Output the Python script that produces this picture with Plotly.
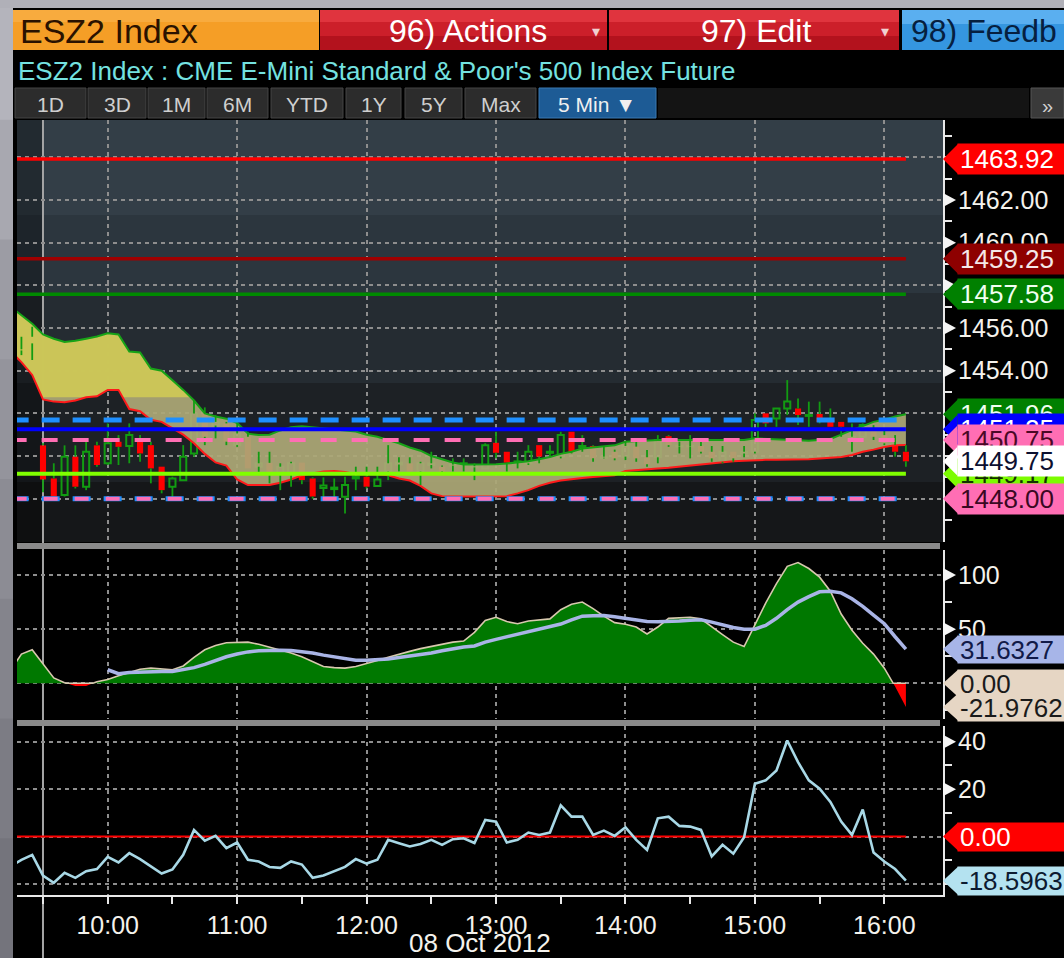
import numpy as np
import pandas as pd
import plotly.graph_objects as go

# ----------------------------- data -----------------------------
ticker_title = "ESZ2 Index"
security_name = "ESZ2 Index : CME E-Mini Standard & Poor's 500 Index Future"
menu_labels = ["96) Actions", "97) Edit", "98) Feedb"]
range_buttons = ["1D", "3D", "1M", "6M", "YTD", "1Y", "5Y", "Max"]
interval_label = "5 Min \u25bc"
date_label = "08 Oct 2012"
session_date = "2012-10-08"
session_open = "2012-10-08 09:30"
bar_start = "2012-10-08 09:20"
line_start = "2012-10-08 09:15"
signal_start = "2012-10-08 10:00"
hour_labels = ["10:00", "11:00", "12:00", "13:00", "14:00", "15:00", "16:00"]

bar_open = [1454.95, 1455.28, 1450.50, 1448.95, 1448.17, 1449.97, 1448.56, 1450.50, 1449.66, 1450.67,
            1450.47, 1450.67, 1450.51, 1449.50, 1448.56, 1448.87, 1450.12, 1451.99, 1451.43, 1451.53,
            1450.51, 1450.90, 1449.50, 1449.68, 1449.19, 1449.22, 1449.69, 1448.95, 1448.50, 1448.45,
            1448.09, 1448.95, 1449.03, 1448.60, 1449.27, 1449.60, 1449.66, 1449.27, 1449.58, 1449.50,
            1449.55, 1449.60, 1449.47, 1449.42, 1450.62, 1450.20, 1449.70, 1449.66, 1450.51, 1450.15,
            1449.97, 1451.14, 1450.40, 1450.47, 1449.92, 1450.20, 1449.97, 1450.44, 1449.94, 1449.94,
            1450.93, 1450.45, 1450.45, 1450.47, 1450.20, 1449.73, 1450.20, 1450.12, 1450.20, 1452.00,
            1451.76, 1452.23, 1452.23, 1451.88, 1451.97, 1451.60, 1451.60, 1450.80, 1450.90, 1451.22,
            1450.98, 1450.51, 1450.20]
bar_high = [1455.59, 1456.06, 1450.60, 1449.66, 1450.50, 1450.50, 1450.67, 1450.67, 1451.53, 1450.98,
            1451.53, 1450.98, 1450.67, 1449.50, 1449.03, 1450.51, 1452.62, 1452.28, 1451.92, 1451.60,
            1451.69, 1451.14, 1450.20, 1450.20, 1449.66, 1449.73, 1449.69, 1449.00, 1449.00, 1448.95,
            1449.03, 1449.50, 1449.50, 1449.50, 1450.51, 1449.94, 1449.94, 1449.73, 1450.20, 1449.55,
            1449.89, 1449.89, 1449.66, 1450.60, 1451.14, 1450.20, 1450.20, 1450.51, 1450.51, 1450.51,
            1451.14, 1451.14, 1450.98, 1450.51, 1450.47, 1450.30, 1450.67, 1450.67, 1450.28, 1450.98,
            1450.98, 1450.67, 1450.98, 1450.67, 1450.47, 1450.47, 1450.20, 1450.47, 1452.00, 1452.00,
            1452.23, 1453.56, 1452.70, 1452.55, 1452.55, 1452.23, 1451.60, 1451.53, 1451.53, 1451.45,
            1451.22, 1450.98, 1450.51]
bar_low = [1454.73, 1454.50, 1448.30, 1448.00, 1448.10, 1448.48, 1448.40, 1449.50, 1449.58, 1449.58,
           1449.66, 1449.73, 1448.72, 1448.25, 1448.00, 1448.87, 1449.97, 1450.51, 1450.83, 1450.51,
           1450.43, 1449.42, 1449.19, 1448.72, 1448.40, 1448.56, 1448.68, 1448.00, 1447.94, 1447.94,
           1447.31, 1448.40, 1448.48, 1448.56, 1448.87, 1449.27, 1449.27, 1448.64, 1449.42, 1449.22,
           1449.27, 1449.27, 1448.87, 1449.42, 1449.89, 1449.27, 1449.42, 1449.58, 1449.66, 1449.97,
           1449.89, 1450.12, 1450.20, 1449.73, 1449.89, 1449.80, 1449.81, 1449.73, 1449.50, 1449.66,
           1450.43, 1450.12, 1449.89, 1450.12, 1449.73, 1449.66, 1449.73, 1449.94, 1450.12, 1451.37,
           1451.37, 1451.92, 1451.45, 1451.37, 1451.53, 1451.37, 1450.90, 1450.20, 1450.90, 1450.75,
           1450.51, 1449.97, 1449.50]
bar_close = [1455.00, 1455.59, 1448.90, 1448.10, 1449.97, 1448.56, 1450.20, 1449.58, 1450.60, 1450.43,
             1450.98, 1450.12, 1449.42, 1448.40, 1448.95, 1449.97, 1451.99, 1450.90, 1451.60, 1450.67,
             1451.06, 1449.42, 1449.66, 1449.19, 1449.50, 1449.66, 1448.87, 1448.10, 1448.62, 1448.52,
             1448.64, 1449.03, 1448.56, 1448.90, 1449.66, 1449.70, 1449.27, 1449.66, 1449.66, 1449.27,
             1449.60, 1449.66, 1449.52, 1450.51, 1450.15, 1449.69, 1449.75, 1450.20, 1449.97, 1450.20,
             1450.98, 1450.20, 1450.47, 1449.89, 1449.97, 1449.89, 1450.47, 1449.89, 1449.62, 1450.75,
             1450.51, 1450.47, 1450.47, 1450.20, 1449.89, 1450.20, 1449.89, 1450.20, 1451.69, 1451.53,
             1452.23, 1452.55, 1451.92, 1451.92, 1451.60, 1451.37, 1451.37, 1450.90, 1451.45, 1450.90,
             1450.60, 1450.20, 1449.75]

cloud_top = [1457.0, 1456.6, 1456.2, 1455.7, 1455.5, 1455.35, 1455.4, 1455.5, 1455.6, 1455.75,
             1455.7, 1454.9, 1454.85, 1454.1, 1454.0, 1453.55, 1453.1, 1452.6, 1452.0, 1451.85,
             1451.75, 1451.55, 1451.05, 1450.98, 1451.0, 1451.2, 1451.35, 1451.4, 1451.35, 1451.3,
             1451.25, 1451.2, 1451.15, 1451.0, 1450.9, 1450.75, 1450.6, 1450.4, 1450.25, 1450.0,
             1449.85, 1449.7, 1449.6, 1449.6, 1449.6, 1449.62, 1449.65, 1449.7, 1449.75, 1449.85,
             1449.95, 1450.1, 1450.2, 1450.35, 1450.4, 1450.42, 1450.5, 1450.67, 1450.7, 1450.73,
             1450.75, 1450.75, 1450.75, 1450.75, 1450.75, 1450.75, 1450.75, 1450.75, 1450.75, 1450.83,
             1450.8, 1450.78, 1450.76, 1450.74, 1450.72, 1450.75, 1450.8, 1451.0, 1451.22, 1451.4,
             1451.6, 1451.7, 1451.85, 1451.96]
cloud_bottom = [1454.9, 1454.4, 1453.8, 1452.65, 1452.55, 1452.52, 1452.6, 1452.75, 1452.8, 1453.1,
                1453.1, 1452.2, 1452.1, 1451.7, 1451.6, 1451.3, 1451.0, 1450.6, 1450.1, 1449.7,
                1449.55, 1448.9, 1448.64, 1448.64, 1448.64, 1448.75, 1448.9, 1449.1, 1449.2, 1449.28,
                1449.3, 1449.25, 1449.15, 1449.15, 1449.15, 1449.1, 1448.95, 1448.85, 1448.6, 1448.25,
                1448.12, 1448.1, 1448.1, 1448.1, 1448.1, 1448.1, 1448.12, 1448.25, 1448.4, 1448.6,
                1448.75, 1448.85, 1448.92, 1448.97, 1449.02, 1449.05, 1449.1, 1449.3, 1449.35, 1449.38,
                1449.42, 1449.45, 1449.5, 1449.58, 1449.62, 1449.68, 1449.73, 1449.75, 1449.78, 1449.81,
                1449.82, 1449.82, 1449.82, 1449.83, 1449.85, 1449.88, 1449.9, 1449.95, 1450.05, 1450.2,
                1450.3, 1450.42, 1450.5, 1450.52]

osc_hist = [12, 27, 31, 18, 5, 0.5, -2.5, -2.5, 1.5, 3.5,
            7, 10, 13, 14, 13, 12.5, 16, 24, 31, 35,
            37.5, 38, 38, 36, 33.5, 31, 28, 24.5, 20, 15.5,
            14.5, 14, 15.5, 18, 21, 24, 27, 29.5, 32, 34,
            36, 38, 39, 47, 58, 61, 57, 55, 57.5, 58.5,
            59.5, 68, 73, 75, 69, 62, 56, 54.5, 52, 45.5,
            52, 60, 60.5, 61, 59.5, 52, 45, 38, 34, 54,
            74, 92, 108, 111.5, 106, 98, 85, 64, 49, 37,
            27, 14, -3, -21.9762]
osc_signal = [12.5, 8.9, 10, 10.5, 11, 11, 11, 12.5, 14.5, 17.5,
              21, 24.5, 27, 29, 30, 30.5, 30.6, 30.3, 29.5, 28,
              26, 24.5, 22.5, 21.3, 21.2, 21.5, 22.5, 23.8, 25, 26.5,
              28, 30, 32, 33.5, 34.5, 38, 40.6, 43, 45.3, 47.5,
              50, 52, 54.7, 58.5, 62, 62.3, 62.5, 61.5, 60, 58.5,
              57, 56.9, 56.9, 57.5, 58.3, 58.75, 56.5, 54, 51.5, 50,
              50, 53.5, 60, 68, 75, 80, 84.5, 85, 83.5, 78,
              71, 63, 55, 43, 31.6327]
momentum = [-12.5, -9.8, -7.7, -16.5, -19.5, -15.3, -17.4, -14.6, -13.7, -8.6,
            -10.9, -7.0, -9.5, -12.5, -15.6, -13.9, -7.7, 2.8, -1.7, 0.3,
            -4.9, -2.5, -9.8, -10.5, -12.8, -13.2, -10.5, -11.8, -17.4, -16.4,
            -14.6, -12.8, -9.5, -11.4, -9.8, -1.4, -2.8, -4.2, -3.1, -1.4,
            -3.5, -1.1, -0.7, -2.7, 7.0, 6.3, -2.5, -1.4, 1.7, 0.7,
            1.7, 13.2, 8.4, 8.4, 0.7, 2.5, 0.3, 3.9, -1.4, -5.6,
            7.7, 8.4, 4.5, 4.2, 2.8, -8.4, -3.5, -7.2, -0.3, 22.3,
            23.7, 27.9, 40.5, 31.4, 23.7, 20.2, 14.6, 6.3, 0.7, 11.4,
            -6.7, -10.5, -13.7, -18.5963]

level_values = [1463.92, 1459.25, 1457.58, 1451.69, 1451.25, 1450.75, 1449.17, 1448.00]
cloud_light_threshold = 1452.76

price_tag_values = [1463.92, 1459.25, 1457.58, 1451.96, 1451.25, 1450.75, 1449.17, 1448.00, 1449.75]
osc_tag_values = [31.6327, 0.00, -21.9762]
osc_tag_texts = ["31.6327", "0.00", "-21.9762"]
mom_tag_values = [0.00, -18.5963]
mom_tag_texts = ["0.00", "-18.5963"]

price_tick_vals = [1448, 1450, 1452, 1454, 1456, 1458, 1460, 1462, 1464]
price_tick_text = ["", "", "", "1454.00", "1456.00", "", "1460.00", "1462.00", ""]
price_minor_vals = [1447, 1449, 1451, 1453, 1455, 1457, 1459, 1461, 1463, 1465]
osc_tick_vals = [0, 50, 100]
osc_tick_text = ["", "50", "100"]
osc_minor_vals = [-25, 25, 75]
mom_tick_vals = [-20, 0, 20, 40]
mom_tick_text = ["", "", "20", "40"]
mom_minor_vals = [-10, 10, 30]

# ----------------------------- geometry / style -----------------------------
W, H = 1064, 958
FONT = "Liberation Sans, Arial, sans-serif"


def px_x(px):
    return px / W


def px_y(py):
    return 1 - py / H


X_DOM = [px_x(17), px_x(943)]
P_DOM = [px_y(542), px_y(120)]
M_DOM = [px_y(719), px_y(550)]
R_DOM = [px_y(895), px_y(726)]
P_RNG = [1445.97, 1465.75]
M_RNG = [-32.96, 123.1]
R_RNG = [-24.64, 46.62]
X_RNG = ["2012-10-08 09:17:57", "2012-10-08 16:27:12"]


def val_py(v, dom, rng):
    frac = (v - rng[0]) / (rng[1] - rng[0])
    return H * (1 - (dom[0] + frac * (dom[1] - dom[0])))


times = pd.date_range(bar_start, periods=len(bar_open), freq="5min")
ltimes = pd.date_range(line_start, periods=len(cloud_top), freq="5min")
stimes = pd.date_range(signal_start, periods=len(osc_signal), freq="5min")
t0 = pd.Timestamp(line_start)


def refine(ys_list, thr):
    xm = np.arange(len(ys_list[0])) * 5.0
    xs = list(xm)
    for ys in ys_list:
        for i in range(len(xm) - 1):
            a, b = ys[i] - thr, ys[i + 1] - thr
            if a * b < 0:
                xs.append(xm[i] + (xm[i + 1] - xm[i]) * a / (a - b))
    xs = np.array(sorted(set(xs)))
    tx = t0 + pd.to_timedelta(xs, unit="min")
    return tx, [np.interp(xs, xm, np.array(ys, dtype=float)) for ys in ys_list]


fig = go.Figure()

# --- Ichimoku-style cloud ---
fig.add_trace(go.Scatter(x=ltimes, y=cloud_bottom, mode="lines", line=dict(width=0),
                         hoverinfo="skip", xaxis="x", yaxis="y"))
fig.add_trace(go.Scatter(x=ltimes, y=cloud_top, mode="lines", line=dict(width=0), fill="tonexty",
                         fillcolor="rgba(172,168,118,0.93)", hoverinfo="skip", xaxis="x", yaxis="y"))
ctx, (cA, cB) = refine([cloud_top, cloud_bottom], cloud_light_threshold)
fig.add_trace(go.Scatter(x=ctx, y=np.maximum(cB, cloud_light_threshold), mode="lines", line=dict(width=0),
                         hoverinfo="skip", xaxis="x", yaxis="y"))
fig.add_trace(go.Scatter(x=ctx, y=np.maximum(cA, cloud_light_threshold), mode="lines", line=dict(width=0),
                         fill="tonexty", fillcolor="rgba(205,200,86,0.94)", hoverinfo="skip",
                         xaxis="x", yaxis="y"))
fig.add_trace(go.Scatter(x=ltimes, y=cloud_top, mode="lines", line=dict(color="#17a317", width=2),
                         hoverinfo="skip", xaxis="x", yaxis="y"))
fig.add_trace(go.Scatter(x=ltimes, y=cloud_bottom, mode="lines", line=dict(color="#ff1a1a", width=2),
                         hoverinfo="skip", xaxis="x", yaxis="y"))

# --- candles: wicks + bodies ---
wx, wy = [], []
for t, o, h, l, c in zip(times, bar_open, bar_high, bar_low, bar_close):
    top, bot = max(o, c), min(o, c)
    wx += [t, t, None, t, t, None]
    wy += [h, top, None, bot, l, None]
fig.add_trace(go.Scatter(x=wx, y=wy, mode="lines", line=dict(color="#129c12", width=1.8),
                         hoverinfo="skip", xaxis="x", yaxis="y"))
up = [c >= o for o, c in zip(bar_open, bar_close)]
for is_up in (True, False):
    xs = [t for t, u in zip(times, up) if u == is_up]
    base = [min(o, c) for o, c, u in zip(bar_open, bar_close, up) if u == is_up]
    hgt = [max(abs(c - o), 0.03) for o, c, u in zip(bar_open, bar_close, up) if u == is_up]
    if is_up:
        marker = dict(color="rgba(0,0,0,0)", line=dict(color="#129c12", width=2))
    else:
        marker = dict(color="#ff0000", line=dict(width=0))
    fig.add_trace(go.Bar(x=xs, y=hgt, base=base, width=170000, marker=marker,
                         hoverinfo="skip", xaxis="x", yaxis="y"))

# --- horizontal price levels ---
level_styles = [
    [dict(color="#ff0000", width=3.5)],
    [dict(color="#a00000", width=3.5)],
    [dict(color="#008a00", width=3.5)],
    [dict(color="#1e8fff", width=5, dash="18px,13px")],
    [dict(color="#0000ff", width=4)],
    [dict(color="#ff6eb4", width=4, dash="16px,15px")],
    [dict(color="#80ff00", width=4)],
    [dict(color="#1e8fff", width=5, dash="18px,13px"),
     dict(color="#ff6eb4", width=4, dash="0px,2px,14px,15px")],
]
for lv, sty in zip(level_values, level_styles):
    for s in sty:
        fig.add_trace(go.Scatter(x=[ltimes[0], times[-1]], y=[lv, lv], mode="lines", line=s,
                                 hoverinfo="skip", xaxis="x", yaxis="y"))

# --- oscillator panel ---
htx, (hv,) = refine([osc_hist], 0.0)
fig.add_trace(go.Scatter(x=htx, y=np.minimum(hv, 0), mode="lines", line=dict(width=0), fill="tozeroy",
                         fillcolor="#ff0000", hoverinfo="skip", xaxis="x2", yaxis="y2"))
fig.add_trace(go.Scatter(x=htx, y=np.maximum(hv, 0), mode="lines", line=dict(color="#d8c8ae", width=1.6),
                         fill="tozeroy", fillcolor="#007800", hoverinfo="skip", xaxis="x2", yaxis="y2"))
fig.add_trace(go.Scatter(x=stimes, y=osc_signal, mode="lines", line=dict(color="#a9b4e6", width=3.5),
                         hoverinfo="skip", xaxis="x2", yaxis="y2"))

# --- momentum panel ---
fig.add_trace(go.Scatter(x=[ltimes[0], times[-1]], y=[0, 0], mode="lines", line=dict(color="#ff0000", width=2),
                         hoverinfo="skip", xaxis="x3", yaxis="y3"))
fig.add_trace(go.Scatter(x=ltimes, y=momentum, mode="lines", line=dict(color="#a8d8e6", width=2.6),
                         hoverinfo="skip", xaxis="x3", yaxis="y3"))

# ----------------------------- axes -----------------------------
hour_vals = [f"{session_date} {h}" for h in hour_labels]
half_vals = pd.date_range(session_open, periods=len(hour_labels), freq="60min")
grid = dict(showgrid=True, gridcolor="#8e8e8e", gridwidth=1.5, griddash="4px,4px", zeroline=False)
tickfont = dict(family=FONT, size=25, color="#f4f2ec")


def xaxis(anchor, labels):
    d = dict(type="date", range=X_RNG, domain=X_DOM, anchor=anchor, tickvals=hour_vals, **grid)
    if labels:
        d.update(ticktext=hour_labels, showticklabels=True, ticks="outside", ticklen=7, tickwidth=2,
                 tickcolor="#e8e8e8", showline=True, linecolor="#e8e8e8", linewidth=2, tickfont=tickfont,
                 minor=dict(tickvals=list(half_vals), ticks="outside", ticklen=7, tickwidth=2,
                            tickcolor="#e8e8e8", showgrid=False))
    else:
        d.update(showticklabels=False, ticks="", showline=False)
    return d


def yaxis(anchor, dom, rng, tv, tt, mv):
    return dict(domain=dom, range=rng, anchor=anchor, side="right", tickvals=tv, ticktext=tt,
                ticks="outside", ticklen=7, tickwidth=2, tickcolor="#e8e8e8", showline=True,
                linecolor="#e8e8e8", linewidth=2, tickfont=tickfont, ticklabelstandoff=1,
                minor=dict(tickvals=mv, ticks="outside", ticklen=7, tickwidth=2, tickcolor="#e8e8e8",
                           showgrid=False), **grid)


# ----------------------------- chrome -----------------------------
shapes = []


def rect(x0, y0, x1, y1, color, line=None, layer="below"):
    shapes.append(dict(type="rect", xref="paper", yref="paper", x0=px_x(x0), x1=px_x(x1),
                       y0=px_y(y1), y1=px_y(y0), fillcolor=color,
                       line=line or dict(width=0), layer=layer))


# outer metallic frame (vertical gradient in strips)
frame_cols = ["#b4b4bc", "#a8a8b0", "#9c9ca4", "#94949c", "#8c8c94", "#84848c", "#7c7c84", "#74747c"]
step = H / len(frame_cols)
for i, col in enumerate(frame_cols):
    rect(0, i * step, 13, (i + 1) * step + 1, col)
rect(0, 0, W, 8, "#b0b0b8")
rect(13, 8, W, H, "#000000")

# header row
rect(13, 10, 319, 50, "#f59e26")
rect(13, 10, 319, 22, "#f8ab3e")
for x0, x1 in ((320, 607), (609, 899)):
    rect(x0, 10, x1, 50, "#b3121d")
    rect(x0, 10, x1, 36, "#cc1f2a")
    rect(x0, 10, x1, 22, "#e0343e")
rect(902, 10, W, 50, "#3596e0")
rect(902, 10, W, 24, "#5aaff0")

# button row
btn_x = [(15, 86), (88, 146), (148, 205), (207, 268), (271, 343), (346, 401), (405, 462), (465, 536)]
for x0, x1 in btn_x:
    rect(x0, 88, x1, 118, "#2c2c2c", line=dict(color="#444444", width=1))
rect(539, 88, 656, 118, "#1d5b95", line=dict(color="#3a78b0", width=1))
rect(658, 88, 1029, 118, "#141414")
rect(1031, 88, W, 118, "#3a3a3a", line=dict(color="#555555", width=1))

# price-panel background bands
bands = [(120, 215, "#333e47"), (215, 293, "#2c363e"), (293, 383, "#252c32"),
         (383, 482, "#1d2125"), (482, 542, "#151719")]
for y0, y1, col in bands:
    rect(17, y0, 943, y1, col)
rect(17, 120, 43, 542, "rgba(0,0,0,0.32)")

# session-open line
shapes.append(dict(type="line", xref="x", yref="paper", x0=session_open, x1=session_open,
                   y0=0, y1=px_y(120), line=dict(color="#a4a4a4", width=2), layer="below"))

# panel separators
rect(17, 543, 940, 549, "#8a8a8a")
rect(17, 720, 940, 726, "#8a8a8a")

# tick marker triangles
for vals, dom, rng in (([1454, 1456, 1458, 1460, 1462], P_DOM, P_RNG),
                       ([50, 100], M_DOM, M_RNG), ([20, 40], R_DOM, R_RNG)):
    for v in vals:
        c = val_py(v, dom, rng)
        shapes.append(dict(type="path", xref="paper", yref="paper",
                           path=f"M {px_x(943)},{px_y(c - 7)} L {px_x(956)},{px_y(c)} L {px_x(943)},{px_y(c + 7)} Z",
                           fillcolor="#f4f4f4", line=dict(width=0), layer="above"))

annotations = []


def text(x, y, s, size, color, anchor="left"):
    annotations.append(dict(x=px_x(x), y=px_y(y), xref="paper", yref="paper", text=s, showarrow=False,
                            xanchor=anchor, yanchor="middle",
                            font=dict(family=FONT, size=size, color=color)))


text(18, 31, ticker_title, 34, "#2a1200")
text(468, 31, menu_labels[0], 32, "#ffffff", "center")
text(596, 32, "\u25be", 16, "#f0d0d0", "center")
text(756, 31, menu_labels[1], 32, "#ffffff", "center")
text(885, 32, "\u25be", 16, "#f0d0d0", "center")
text(909, 31, menu_labels[2], 32, "#06203f")
text(16, 71, security_name, 26, "#74e2e0")
for (x0, x1), lab in zip(btn_x, range_buttons):
    text((x0 + x1) / 2, 104, lab, 21, "#cfcfcf", "center")
text(597, 104, interval_label, 21, "#f0f0f0", "center")
text(1047, 106, "\u00bb", 20, "#d0d0d0", "center")
text(480, 943, date_label, 26, "#f4f2ec", "center")


# value tags on right axis
def tag(value, label, dom, rng, yref, bg, fg, hgt=30):
    c = val_py(value, dom, rng)
    shapes.append(dict(type="path", xref="paper", yref="paper",
                       path=f"M {px_x(958)},{px_y(c - hgt / 2)} L {px_x(943)},{px_y(c)} L {px_x(958)},{px_y(c + hgt / 2)} Z",
                       fillcolor=bg, line=dict(width=0), layer="above"))
    annotations.append(dict(x=px_x(957), y=value, xref="paper", yref=yref, text=label, showarrow=False,
                            xanchor="left", yanchor="middle", align="left", width=104, height=hgt - 4,
                            borderpad=2, bgcolor=bg, font=dict(family=FONT, size=26, color=fg)))


price_tag_colors = [("#ff0000", "#ffffff"), ("#8e0000", "#f4e8e8"), ("#008000", "#f0fff0"),
                    ("#008000", "#f0fff0"), ("#0000ff", "#ffffff"), ("#ff6eb4", "#4a0826"),
                    ("#7cfc00", "#143000"), ("#ff6eb4", "#3a0822"), ("#ffffff", "#0c1030")]
for v, (bg, fg) in zip(price_tag_values, price_tag_colors):
    tag(v, f"{v:.2f}", P_DOM, P_RNG, "y", bg, fg)
osc_tag_colors = [("#a7b5e8", "#111a48"), ("#e6d6c4", "#1a1a1a"), ("#e6d6c4", "#1a1a1a")]
for v, s, (bg, fg) in zip(osc_tag_values, osc_tag_texts, osc_tag_colors):
    tag(v, s, M_DOM, M_RNG, "y2", bg, fg, hgt=27)
mom_tag_colors = [("#ff0000", "#ffffff"), ("#b4e2f0", "#0c1a30")]
for v, s, (bg, fg) in zip(mom_tag_values, mom_tag_texts, mom_tag_colors):
    tag(v, s, R_DOM, R_RNG, "y3", bg, fg, hgt=28)

fig.update_layout(
    width=W, height=H, margin=dict(l=0, r=0, t=0, b=0),
    paper_bgcolor="#8e8e96", plot_bgcolor="rgba(0,0,0,0)",
    showlegend=False, barmode="overlay", hovermode=False,
    xaxis=xaxis("y", False), xaxis2=xaxis("y2", False), xaxis3=xaxis("y3", True),
    yaxis=yaxis("x", P_DOM, P_RNG, price_tick_vals, price_tick_text, price_minor_vals),
    yaxis2=yaxis("x2", M_DOM, M_RNG, osc_tick_vals, osc_tick_text, osc_minor_vals),
    yaxis3=yaxis("x3", R_DOM, R_RNG, mom_tick_vals, mom_tick_text, mom_minor_vals),
    shapes=shapes, annotations=annotations,
)

fig.write_html("out.html", config={"displayModeBar": False},
               post_script="document.body.style.margin='0';document.body.style.overflow='hidden';")
